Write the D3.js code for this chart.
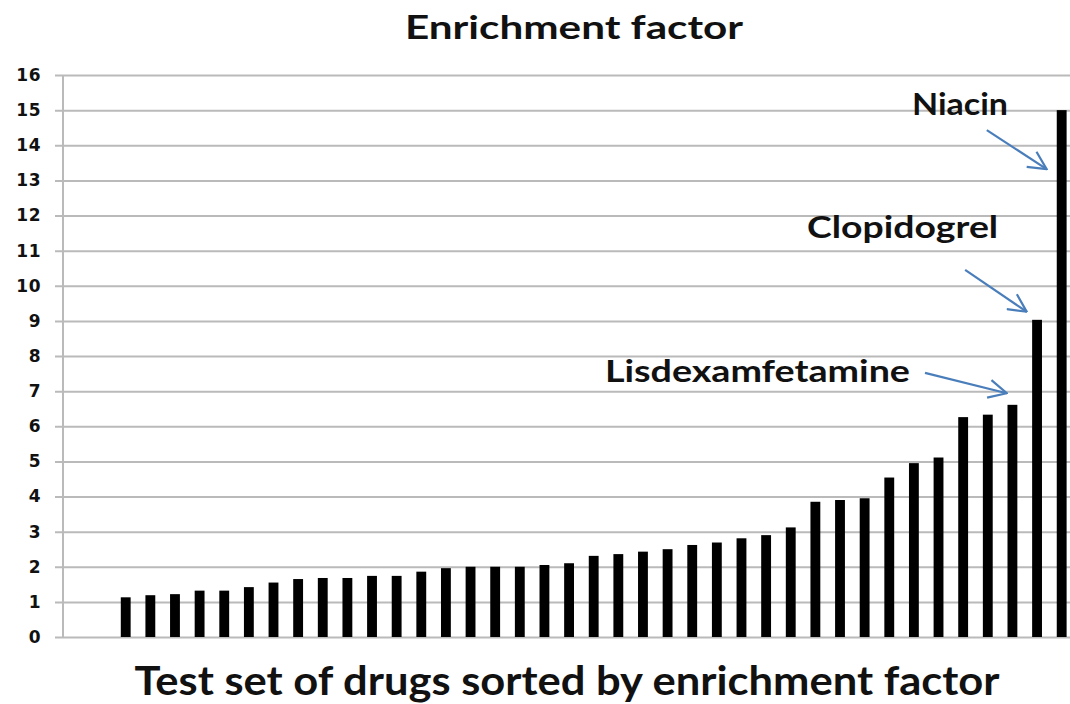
<!DOCTYPE html>
<html lang="en">
<head>
  <meta charset="UTF-8" />
  <title>Enrichment factor</title>
  <script src="https://d3js.org/d3.v7.js"></script>
  <style>
    body { margin: 0; background: #fff; }
    svg text { font-family: Lato, "Open Sans", sans-serif; font-weight: bold; fill: #111; }
  </style>
</head>
<body>
  <div id="chart"></div>
<script>
  // Data (drugs sorted by enrichment factor)
  const enrichment = [1.13, 1.19, 1.22, 1.32, 1.32, 1.42, 1.55, 1.65, 1.68, 1.68,
    1.74, 1.74, 1.86, 1.96, 2.0, 2.0, 2.0, 2.05, 2.10, 2.31,
    2.36, 2.43, 2.50, 2.62, 2.69, 2.81, 2.90, 3.12, 3.85, 3.90,
    3.95, 4.54, 4.95, 5.11, 6.26, 6.33, 6.61, 9.03, 15.0]
  const yTicks = d3.range(0, 17)
  const labelNames = ["Lisdexamfetamine", "Clopidogrel", "Niacin"]
  const labelTargets = [36, 37, 38]   // index of the bar each label points at

  const titleText = "Enrichment factor"
  const xTitleText = "Test set of drugs sorted by enrichment factor"

  const width = 1070
  const height = 704
  const margin = { left: 63, top: 75, right: 0, bottom: 67 }

  const svg = d3.select("#chart").append("svg")
    .attr("width", width)
    .attr("height", height)

  const y = d3.scaleLinear()
    .domain([0, 16])
    .range([height - margin.bottom, margin.top])

  const x = d3.scaleBand()
    .domain(d3.range(enrichment.length))
    .range([113.4, 1074])
    .paddingInner(0.6)
    .paddingOuter(0.3)

  // centre of bar i (fractional index allowed, for annotation placement)
  const xi = i => x(0) + x.bandwidth() / 2 + i * x.step()

  // gridlines
  const grid = svg.append("g")
    .attr("transform", `translate(55,0)`)
    .call(d3.axisLeft(y).tickValues(yTicks).tickSize(-(width - 55)).tickFormat(""))
  grid.select(".domain").remove()
  grid.selectAll("line").attr("stroke", "#bababa").attr("stroke-width", 2)

  // y axis line
  svg.append("line")
    .attr("x1", margin.left).attr("x2", margin.left)
    .attr("y1", y(0)).attr("y2", y(16))
    .attr("stroke", "#bababa").attr("stroke-width", 2)

  // tick labels
  const yAxis = svg.append("g")
    .attr("transform", `translate(${margin.left},0)`)
    .call(d3.axisLeft(y).tickValues(yTicks).tickSize(0).tickPadding(22))
  yAxis.select(".domain").remove()
  yAxis.selectAll("text")
    .style("font-family", "'DejaVu Sans', sans-serif")
    .style("font-size", "17px")
    .style("font-weight", "bold")
    .style("letter-spacing", "0.5px")
    .attr("fill", "#111")

  // bars
  svg.selectAll("rect.bar")
    .data(enrichment)
    .join("rect")
    .attr("class", "bar")
    .attr("x", (d, i) => x(i))
    .attr("y", d => y(d))
    .attr("width", x.bandwidth())
    .attr("height", d => y(0) - y(d))
    .attr("fill", "#000")

  // titles
  svg.append("text")
    .attr("x", 574).attr("y", 39)
    .attr("text-anchor", "middle")
    .attr("font-size", 33)
    .attr("textLength", 338).attr("lengthAdjust", "spacingAndGlyphs")
    .text(titleText)

  svg.append("text")
    .attr("x", 567).attr("y", 695)
    .attr("text-anchor", "middle")
    .attr("font-size", 41)
    .attr("textLength", 865).attr("lengthAdjust", "spacingAndGlyphs")
    .text(xTitleText)

  // annotations: label end / arrow start / arrow tip in (bar index, value) units
  const annLayout = [
    { textEnd: [31.84, 7.27], len: 305, from: [32.45, 7.52], to: [35.77, 6.94] },
    { textEnd: [35.42, 11.36], len: 191, from: [34.08, 10.45], to: [36.58, 9.26] },
    { textEnd: [35.82, 14.86], len: 96, from: [34.96, 14.43], to: [37.39, 13.32] }
  ]

  svg.append("defs").append("marker")
    .attr("id", "arrow")
    .attr("viewBox", "0 -10 20 20")
    .attr("refX", 19).attr("refY", 0)
    .attr("markerWidth", 20).attr("markerHeight", 20)
    .attr("markerUnits", "userSpaceOnUse")
    .attr("orient", "auto")
    .append("path")
    .attr("d", "M1,-9L19,0L1,9")
    .attr("fill", "none")
    .attr("stroke", "#4a7ebb")
    .attr("stroke-width", 2.2)

  labelNames.forEach((name, k) => {
    const a = annLayout[k]
    svg.append("text")
      .attr("x", xi(a.textEnd[0])).attr("y", y(a.textEnd[1]))
      .attr("text-anchor", "end")
      .attr("font-size", 31)
      .attr("textLength", a.len).attr("lengthAdjust", "spacingAndGlyphs")
      .text(name)
    svg.append("line")
      .attr("x1", xi(a.from[0])).attr("y1", y(a.from[1]))
      .attr("x2", xi(a.to[0])).attr("y2", y(a.to[1]))
      .attr("stroke", "#4a7ebb")
      .attr("stroke-width", 2.2)
      .attr("marker-end", "url(#arrow)")
  })
</script>
</body>
</html>
